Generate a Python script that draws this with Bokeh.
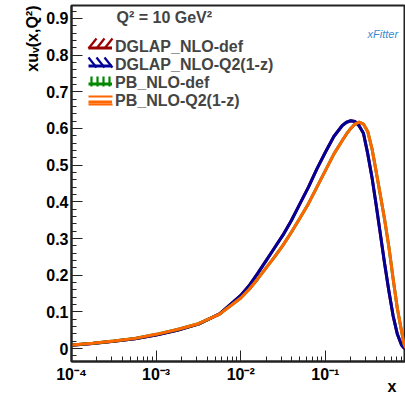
import numpy as np
from bokeh.plotting import figure
from bokeh.models import Range1d, FixedTicker, Label, Legend, LegendItem, Title
from bokeh.embed import file_html
from bokeh.resources import INLINE

# ---- data, x on log scale ----
log_x = [-4.0, -3.75, -3.5, -3.25, -3.0, -2.75, -2.5, -2.25, -2.0, -1.9, -1.8, -1.7,
         -1.6, -1.5, -1.4, -1.3, -1.2, -1.1, -1.0, -0.9, -0.8, -0.75, -0.7, -0.65,
         -0.6, -0.55, -0.5, -0.45, -0.4, -0.35, -0.3, -0.25, -0.2, -0.15, -0.1,
         -0.07, -0.05]
x_vals = [10 ** v for v in log_x]

dglap_q2 = [0.009, 0.014, 0.020, 0.027, 0.037, 0.050, 0.067, 0.095, 0.145, 0.172,
            0.205, 0.240, 0.275, 0.310, 0.350, 0.395, 0.440, 0.490, 0.535, 0.578,
            0.608, 0.617, 0.621, 0.619, 0.607, 0.587, 0.532, 0.468, 0.392, 0.312,
            0.232, 0.158, 0.090, 0.040, 0.010, 0.002, 0.000]
dglap_def = list(dglap_q2)

pb_q2 = [0.010, 0.015, 0.021, 0.028, 0.039, 0.052, 0.068, 0.094, 0.138, 0.162,
         0.190, 0.220, 0.250, 0.282, 0.318, 0.356, 0.395, 0.440, 0.485, 0.530,
         0.567, 0.585, 0.600, 0.612, 0.617, 0.612, 0.592, 0.546, 0.483, 0.418,
         0.352, 0.278, 0.192, 0.110, 0.048, 0.012, 0.002]
pb_def = list(pb_q2)

labels = ["DGLAP_NLO-def", "DGLAP_NLO-Q2(1-z)", "PB_NLO-def", "PB_NLO-Q2(1-z)"]
colors = ["#990000", "#000099", "#008800", "#ff6600"]
hatches = ["/", "\\", "|", "-"]
header = "Q\u00b2 = 10 GeV\u00b2"
y_title = "xu\u1d65(x,Q\u00b2)"
x_title = "x\u2003\u2002\u2009"

x_major = [1e-4, 1e-3, 1e-2, 1e-1]
x_major_labels = ["10\u207b\u2074", "10\u207b\u00b3", "10\u207b\u00b2", "10\u207b\u00b9"]
y_major = [0.0, 0.1, 0.2, 0.3, 0.4, 0.5, 0.6, 0.7, 0.8, 0.9]
y_major_labels = ["0", "0.1", "0.2", "0.3", "0.4", "0.5", "0.6", "0.7", "0.8", "0.9"]

FONT = "Liberation Sans"

# frame geometry (pixels) used only to place legend decorations
X0, X1 = 1e-4, 0.885
Y0, Y1 = -0.035, 0.935
FL, FR, FT, FB = 71, 405, 5, 361


def px2x(sx):
    return 10 ** (np.log10(X0) + (sx - FL) / (FR - FL) * (np.log10(X1) - np.log10(X0)))


def px2y(sy):
    return Y1 - (sy - FT) / (FB - FT) * (Y1 - Y0)


p = figure(width=405, height=397, x_axis_type="log",
           x_range=Range1d(X0, X1), y_range=Range1d(Y0, Y1),
           output_backend="svg", toolbar_location=None,
           min_border_left=FL, min_border_right=0, min_border_top=FT,
           min_border_bottom=397 - FB)
p.xgrid.visible = False
p.ygrid.visible = False
p.outline_line_color = "#222222"
p.outline_line_width = 2
p.background_fill_color = "white"
p.border_fill_color = "white"

series = [dglap_def, dglap_q2, pb_def, pb_q2]
line_r = []
for ys, c in zip(series, colors):
    line_r.append(p.line(x_vals, ys, line_color=c, line_width=3))

# legend swatch hatching (drawn as short segments behind the legend lines)
items = []
for i, (lab, c, h, lr) in enumerate(zip(labels, colors, hatches, line_r)):
    cy = 43 + 19 * i
    gx0, gx1 = 88, 112
    segs = []
    if h == "/":
        for ox in (92, 100, 108):
            segs.append((ox - 4, cy + 5, ox + 4, cy - 5))
    elif h == "\\":
        for ox in (92, 100, 108):
            segs.append((ox - 4, cy - 5, ox + 4, cy + 5))
    elif h == "|":
        for ox in (91, 97, 103, 109):
            segs.append((ox, cy - 5, ox, cy + 5))
    else:
        for oy in (cy - 4, cy + 4):
            segs.append((gx0, oy, gx1, oy))
    p.segment(x0=[px2x(s[0]) for s in segs], y0=[px2y(s[1]) for s in segs],
              x1=[px2x(s[2]) for s in segs], y1=[px2y(s[3]) for s in segs],
              line_color=c, line_width=2.2)
    items.append(LegendItem(label=lab, renderers=[lr]))

legend = Legend(items=items, location=(17, 251), border_line_alpha=0,
                background_fill_alpha=0, padding=0, margin=0, spacing=0,
                glyph_width=24, glyph_height=11, label_standoff=3, label_height=14,
                label_text_font=FONT, label_text_font_style="bold",
                label_text_font_size="16px")
p.add_layout(legend)

# axes
xt = FixedTicker(ticks=x_major,
                 minor_ticks=[m * 10.0 ** k for k in range(-4, 0) for m in range(2, 10)])
p.xaxis.ticker = xt
p.xaxis.major_label_overrides = {t: s for t, s in zip(x_major, x_major_labels)}
yt = FixedTicker(ticks=y_major, minor_ticks=list(np.round(np.arange(-0.02, 0.94, 0.02), 2)))
p.yaxis.ticker = yt
p.yaxis.major_label_overrides = {t: s for t, s in zip(y_major, y_major_labels)}

for ax in (p.xaxis[0], p.yaxis[0]):
    ax.axis_line_width = 2
    ax.axis_line_color = "#222222"
    ax.major_tick_in = 11
    ax.major_tick_out = 0
    ax.minor_tick_in = 5
    ax.minor_tick_out = 0
    ax.major_tick_line_color = "#222222"
    ax.minor_tick_line_color = "#222222"
    ax.major_label_text_font = FONT
    ax.major_label_text_font_style = "bold"
    ax.major_label_text_font_size = "16px"
    ax.major_label_text_color = "black"
    ax.axis_label_text_font = FONT
    ax.axis_label_text_font_style = "bold"
    ax.axis_label_text_font_size = "16px"
    ax.axis_label_text_color = "black"
p.yaxis.major_label_standoff = 3
p.xaxis.major_label_standoff = 4
p.xaxis.axis_label = x_title
p.xaxis.axis_label_align = "end"
p.xaxis.axis_label_standoff = -8

# y-axis title, right-aligned (top end) like ROOT
p.add_layout(Title(text=y_title, align="right", text_font=FONT, text_font_style="bold",
                   text_font_size="16px", text_color="black", standoff=6, offset=0),
             "left")

# texts
p.add_layout(Label(x=45, y=344, x_units="screen", y_units="screen", text=header,
                   text_font=FONT, text_font_style="bold", text_font_size="16px",
                   text_baseline="middle", text_align="left"))
p.add_layout(Label(x=296, y=328, x_units="screen", y_units="screen", text="xFitter",
                   text_font=FONT, text_font_style="italic", text_font_size="11px",
                   text_color="#3a8ad0", text_baseline="alphabetic", text_align="left"))

open("out.html", "w").write(file_html(p, INLINE))
